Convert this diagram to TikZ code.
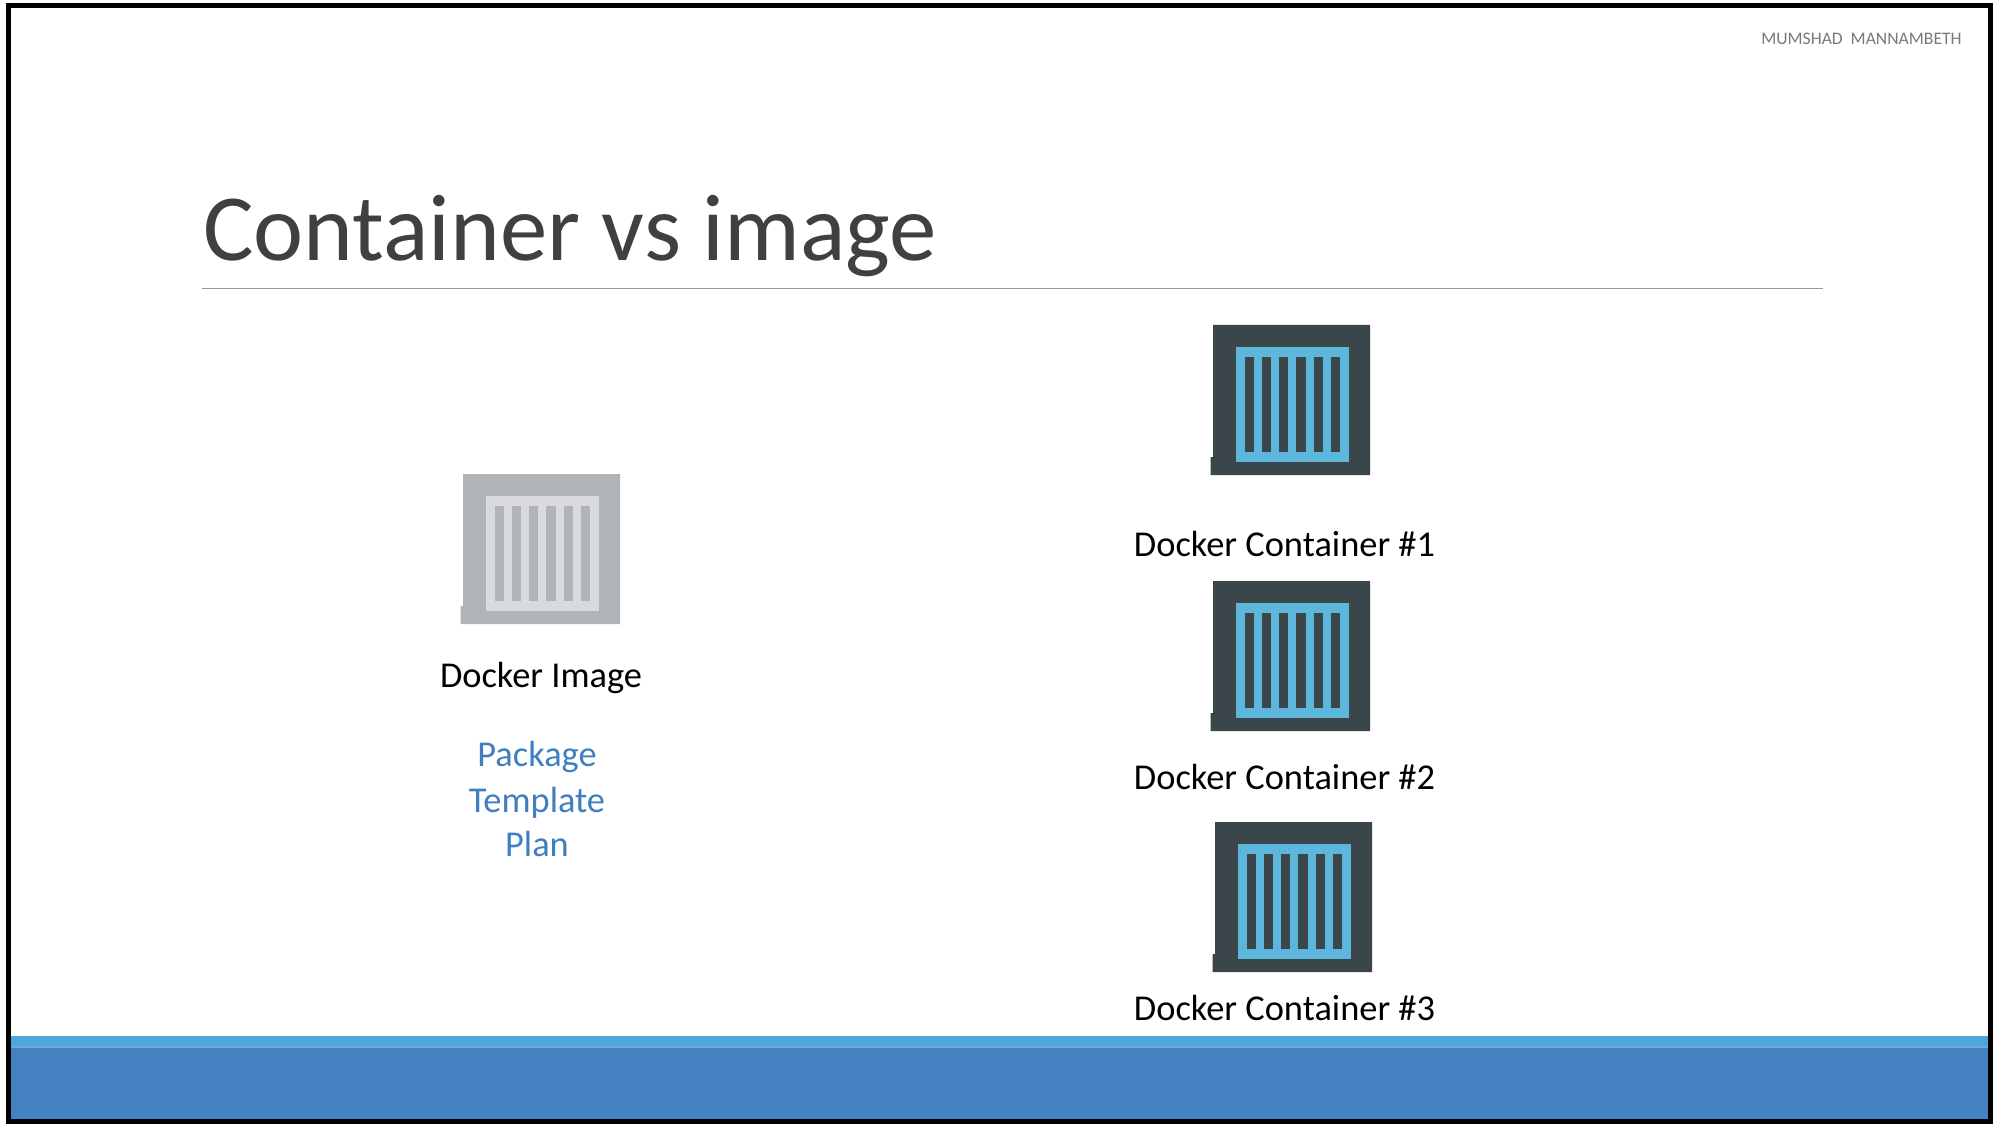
\documentclass[tikz,border=0pt]{standalone}
\usepackage{fontspec}
\setmainfont{Carlito}
\definecolor{dark}{HTML}{3B464B}
\definecolor{cblue}{HTML}{5DB6DC}
\definecolor{gdark}{HTML}{B0B3B7}
\definecolor{glight}{HTML}{D8DADC}
\definecolor{bandl}{HTML}{4EA6DC}
\definecolor{bandm}{HTML}{4481C0}
\definecolor{bandg}{HTML}{6FA5D8}
\definecolor{ttl}{HTML}{404040}
\definecolor{pkg}{HTML}{3F7FC1}
\tikzset{
  lbl/.style={inner sep=0pt,font=\fontsize{18.2}{21}\selectfont,text=black},
  pk/.style={inner sep=0pt,font=\fontsize{18.2}{21}\selectfont,text=pkg},
}
\newcommand{\boxicon}[4]{%
  \begin{scope}[shift={(#1,#2)}]
    \fill[#3] (0,0) -- (157,0) -- (157,150) -- (-2.5,150) -- (-2.5,132) -- (0,132) -- cycle;
    \fill[#4] (22.5,22) rectangle (136,137);
    \foreach \sx in {32,48.7,66,83.3,100.7,118}
      \fill[#3] (\sx,31.7) rectangle ++(9.3,95.3);
  \end{scope}}
\begin{document}
\begin{tikzpicture}[x=0.5pt,y=-0.5pt]
\useasboundingbox (0,0) rectangle (2000,1128);
\fill[white] (0,0) rectangle (2000,1128);
% bottom band
\fill[bandl] (8,1036) rectangle (1990,1046);
\fill[bandg] (8,1046) rectangle (1990,1048);
\fill[bandm] (8,1048) rectangle (1990,1120);
% frame
\draw[black,line width=2.5pt] (8.25,6) rectangle (1990,1121.5);
% header
\node[anchor=east,inner sep=0pt,text=gray!95!black,font=\fontsize{8.8}{11}\selectfont] (author) at (1962,38.5) {MUMSHAD\ \ MANNAMBETH};
\node[anchor=west,inner sep=0pt,text=ttl,font=\fontsize{47.4}{54}\selectfont] (title) at (203,236.5) {Container vs image};
\draw[gray!80,line width=0.75pt] (202,288.5) -- (1823,288.5);
% icons
\boxicon{1213}{325}{dark}{cblue}
\boxicon{1213}{581}{dark}{cblue}
\boxicon{1215}{822}{dark}{cblue}
\boxicon{463}{474}{gdark}{glight}
% labels
\node[lbl] (image) at (541,678) {Docker Image};
\node[pk] (package) at (537,757) {Package};
\node[pk] (template) at (537,803) {Template};
\node[pk] (plan) at (537,844) {Plan};
\node[lbl] (c1) at (1284.5,544) {Docker Container \#1};
\node[lbl] (c2) at (1284.5,777) {Docker Container \#2};
\node[lbl] (c3) at (1284.5,1008) {Docker Container \#3};
\end{tikzpicture}
\end{document}
